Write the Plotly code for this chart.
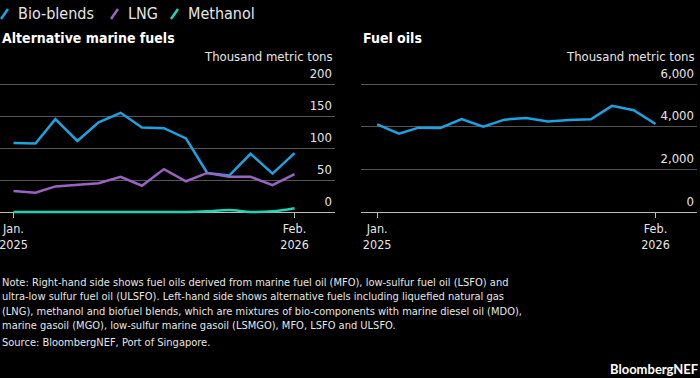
import plotly.graph_objects as go

months = ["2025-01-01","2025-02-01","2025-03-01","2025-04-01","2025-05-01","2025-06-01",
          "2025-07-01","2025-08-01","2025-09-01","2025-10-01","2025-11-01","2025-12-01",
          "2026-01-01","2026-02-01"]
bio_blends = [108, 107, 145, 111, 140, 155, 132, 131, 115, 61, 57, 91, 60, 92]
lng = [33, 30, 40, 42, 45, 55, 41, 67, 48, 61, 55, 55, 42, 59]
methanol = [0, 0, 0, 0, 0, 0, 0, 0, 0, 1, 3, 0, 1, 6]
fuel_oils = [4110, 3670, 3955, 3940, 4360, 4000, 4330, 4410, 4240, 4315, 4345, 4975, 4770, 4125]

left_yticks = [0, 50, 100, 150, 200]
right_yticks = [0, 2000, 4000, 6000]
right_yticktext = ["0", "2,000", "4,000", "6,000"]
x_tickvals = ["2025-01-01", "2026-02-01"]
x_ticktext = ["Jan.<br>2025", "Feb.<br>2026"]

BLUE = "#1ba3e3"
PURPLE = "#9a62c2"
TEAL = "#1fd4b4"
FONT = "DejaVu Sans Condensed, DejaVu Sans, sans-serif"
TXT = "#e6e6e6"

fig = go.Figure()
fig.add_trace(go.Scatter(x=months, y=bio_blends, mode="lines", line=dict(color=BLUE, width=2.5),
                         xaxis="x", yaxis="y", showlegend=False))
fig.add_trace(go.Scatter(x=months, y=lng, mode="lines", line=dict(color=PURPLE, width=2.5),
                         xaxis="x", yaxis="y", showlegend=False))
fig.add_trace(go.Scatter(x=months, y=methanol, mode="lines", line=dict(color=TEAL, width=2.5, shape="spline"),
                         xaxis="x", yaxis="y", showlegend=False))
fig.add_trace(go.Scatter(x=months, y=fuel_oils, mode="lines", line=dict(color=BLUE, width=2.5),
                         xaxis="x2", yaxis="y2", showlegend=False))

ydom = [1 - 214.56 / 378, 1 - 64.8 / 378]
xpos = 1 - 212 / 378

common_x = dict(showgrid=False, zeroline=False, showline=False, ticks="outside", ticklen=5,
                tickcolor="#bbbbbb", tickwidth=1, tickfont=dict(color=TXT, size=12.5, family=FONT),
                anchor="free", position=xpos, ticklabeloverflow="allow")
common_y = dict(side="right", showgrid=True, gridcolor="#555555", gridwidth=1,
                zeroline=True, zerolinecolor="#bbbbbb", zerolinewidth=1,
                ticks="", ticklabelposition="inside", ticklabelshift=-11, ticklabelstandoff=0,
                ticklabeloverflow="allow",
                tickfont=dict(color=TXT, size=13, family=FONT), showline=False, domain=ydom)

fig.update_layout(
    width=700, height=378,
    paper_bgcolor="black", plot_bgcolor="black",
    margin=dict(l=0, r=0, t=0, b=0),
    font=dict(family=FONT, color=TXT),
    xaxis=dict(domain=[0, 335 / 700], range=["2024-12-13", "2026-03-30"],
               tickvals=x_tickvals, ticktext=x_ticktext, **common_x),
    yaxis=dict(range=[-4, 230], tickvals=left_yticks, anchor="x", **common_y),
    xaxis2=dict(domain=[361 / 700, 697 / 700], range=["2024-12-09", "2026-04-01"],
                tickvals=x_tickvals, ticktext=x_ticktext, **common_x),
    yaxis2=dict(range=[-120, 6900], tickvals=right_yticks, ticktext=right_yticktext,
                anchor="x2", **common_y),
    showlegend=False,
)

# Legend (custom, with slanted swatches)
legend_items = [("Bio-blends", BLUE, 0), ("LNG", PURPLE, 110), ("Methanol", TEAL, 170)]
for name, col, x0 in legend_items:
    fig.add_shape(type="line", xref="paper", yref="paper",
                  x0=(x0 + 1) / 700, x1=(x0 + 8) / 700, y0=1 - 19 / 378, y1=1 - 9 / 378,
                  line=dict(color=col, width=2.5))
    fig.add_annotation(text=name, xref="paper", yref="paper", x=(x0 + 16) / 700, y=1 - 14 / 378,
                       xanchor="left", yanchor="middle", showarrow=False,
                       font=dict(size=16, color=TXT, family=FONT))

# Panel titles
fig.add_annotation(text="<b>Alternative marine fuels</b>", xref="paper", yref="paper", x=0, y=1 - 38 / 378,
                   xanchor="left", yanchor="middle", showarrow=False,
                   font=dict(size=14, color="white", family=FONT))
fig.add_annotation(text="<b>Fuel oils</b>", xref="paper", yref="paper", x=361 / 700, y=1 - 38 / 378,
                   xanchor="left", yanchor="middle", showarrow=False,
                   font=dict(size=14, color="white", family=FONT))
for xr in [335 / 700, 697 / 700]:
    fig.add_annotation(text="Thousand metric tons", xref="paper", yref="paper", x=xr, y=1 - 56 / 378,
                       xanchor="right", yanchor="middle", showarrow=False,
                       font=dict(size=13, color=TXT, family=FONT))

note = ("Note: Right-hand side shows fuel oils derived from marine fuel oil (MFO), low-sulfur fuel oil (LSFO) and<br>"
        "ultra-low sulfur fuel oil (ULSFO). Left-hand side shows alternative fuels including liquefied natural gas<br>"
        "(LNG), methanol and biofuel blends, which are mixtures of bio-components with marine diesel oil (MDO),<br>"
        "marine gasoil (MGO), low-sulfur marine gasoil (LSMGO), MFO, LSFO and ULSFO.")
fig.add_annotation(text=note, xref="paper", yref="paper", x=0, y=1 - 274 / 378,
                   xanchor="left", yanchor="top", align="left", showarrow=False,
                   font=dict(size=11, color=TXT, family=FONT))
fig.add_annotation(text="Source: BloombergNEF, Port of Singapore.", xref="paper", yref="paper",
                   x=0, y=1 - 342 / 378, xanchor="left", yanchor="middle", align="left", showarrow=False,
                   font=dict(size=11, color=TXT, family=FONT))
fig.add_annotation(text="<b>BloombergNEF</b>", xref="paper", yref="paper", x=1, y=1 - 369 / 378,
                   xanchor="right", yanchor="middle", showarrow=False,
                   font=dict(size=13, color="white", family="Lato, Roboto, sans-serif"))

fig.write_html("out.html", post_script="document.body.style.margin='0';",
               config={"displayModeBar": False})
